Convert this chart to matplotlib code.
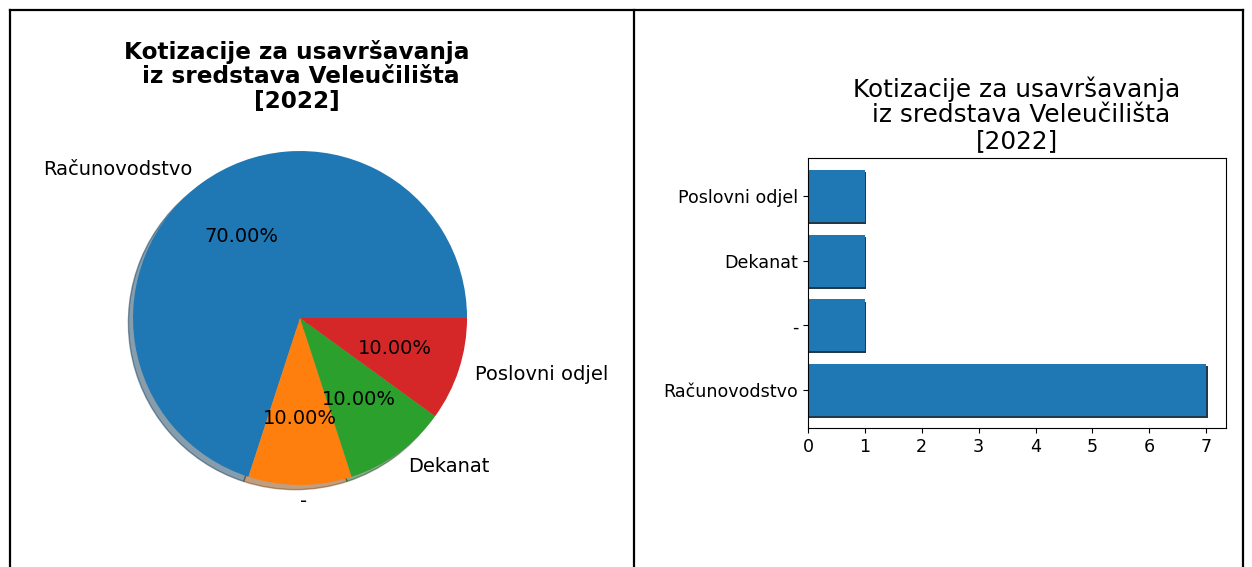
import matplotlib
matplotlib.use("Agg")
from matplotlib import pyplot as plt
from matplotlib.lines import Line2D
import matplotlib.patheffects as pe

categories = ["Računovodstvo", "-", "Dekanat", "Poslovni odjel"]
counts = [7, 1, 1, 1]
title = "Kotizacije za usavršavanja\n iz sredstava Veleučilišta\n[2022]"

fig = plt.figure(figsize=(12.52, 5.67), dpi=100)

# table-like cell borders
for x in [10 / 1252, 634 / 1252, 1243 / 1252]:
    fig.add_artist(Line2D([x, x], [0, 1 - 10 / 567], color="black", lw=1.6,
                          transform=fig.transFigure))
fig.add_artist(Line2D([10 / 1252, 1243 / 1252], [1 - 10 / 567, 1 - 10 / 567],
                      color="black", lw=1.6, transform=fig.transFigure))

# pie
ax1 = fig.add_axes([0.0729, 0.0710, 0.3335, 0.7363])
ax1.pie(counts, labels=categories, autopct="%.2f%%",
        shadow={"ox": -0.02, "oy": -0.02, "shade": 0.5},
        textprops={"fontsize": 14})
ax1.set_xlim(-1.25, 1.25)
ax1.set_ylim(-1.25, 1.25)
fig.text(297 / 1252, 1 - 40 / 567, title, ha="center", va="top",
         fontsize=16.7, fontweight="bold", multialignment="center",
         linespacing=1.08)

# bars
ax2 = fig.add_axes([0.6454, 0.2451, 0.3339, 0.4762])
ax2.barh(categories, counts, color="C0",
         path_effects=[pe.SimplePatchShadow(offset=(1, -1.5), alpha=0.9), pe.Normal()])
ax2.set_xticks(range(max(counts) + 1))
ax2.tick_params(labelsize=12.6)
fig.text(1017 / 1252, 1 - 76 / 567, title, ha="center", va="top",
         fontsize=17.8, multialignment="center", linespacing=1.1)

plt.savefig("out.png", dpi=100)
